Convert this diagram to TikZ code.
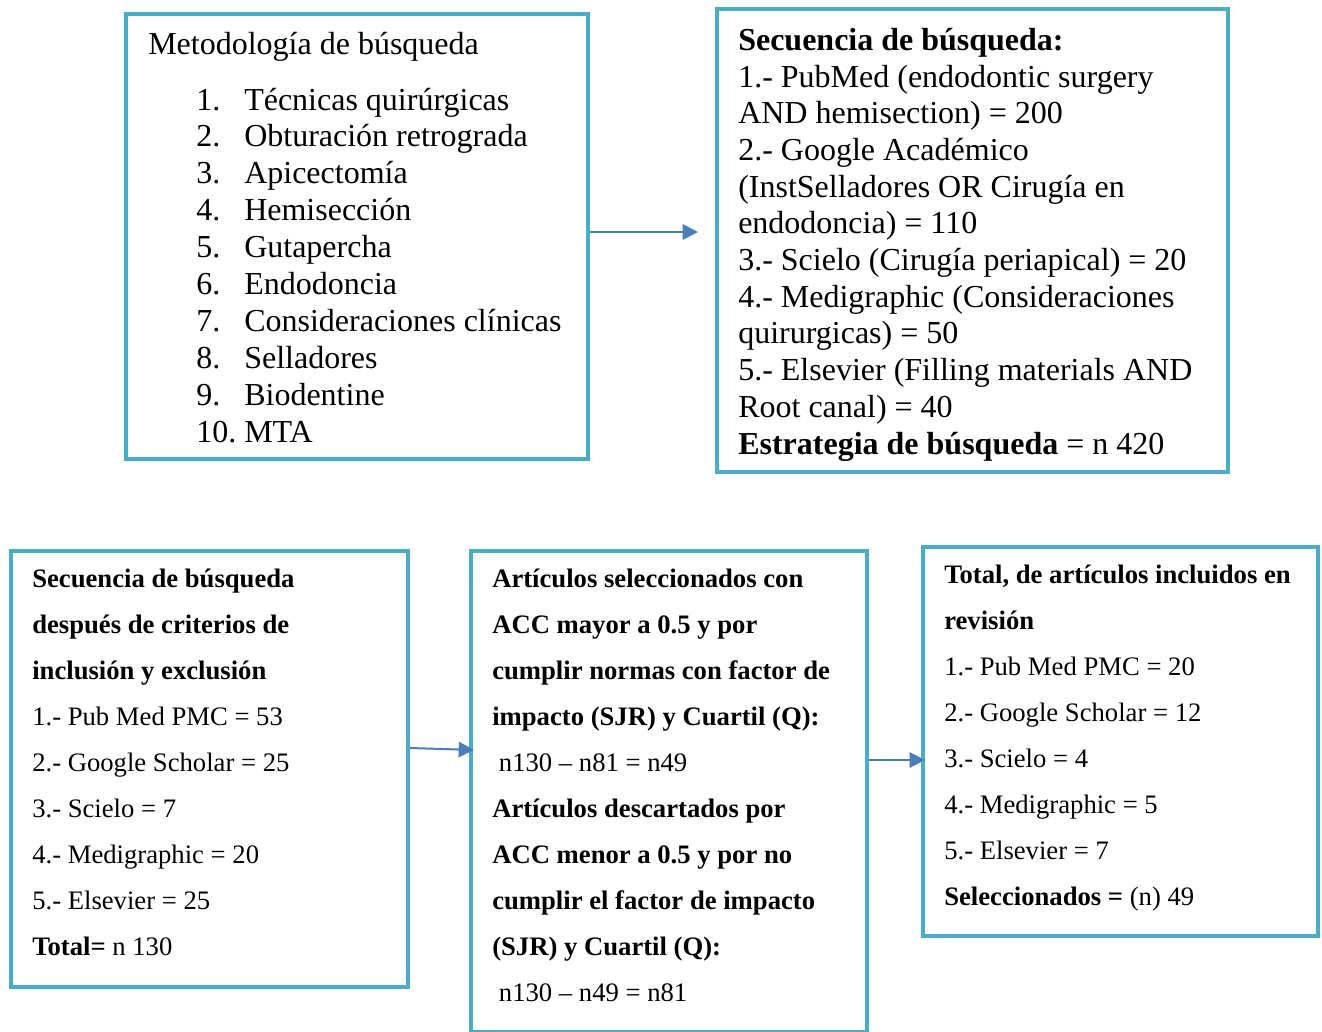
\documentclass[tikz,border=0pt]{standalone}
\usepackage{fontspec}
\setmainfont{Liberation Serif}
\usetikzlibrary{arrows.meta,fit}
\definecolor{boxc}{HTML}{4BACC6}
\definecolor{arrc}{HTML}{4A7EBB}
\begin{document}
\begin{tikzpicture}[x=0.75pt,y=-0.75pt,
  box/.style={draw=boxc,line width=3.2pt,inner sep=0pt},
  arr/.style={draw=arrc,line width=1.5pt,-{Triangle[length=11.5pt,width=11.5pt]}},
  big/.style={anchor=base west,inner sep=0pt,font=\fontsize{24}{28}\selectfont},
  small/.style={anchor=base west,inner sep=0pt,font=\fontsize{20}{24}\selectfont}]
\useasboundingbox (0,0) rectangle (1322,1032);
\clip (0,0) rectangle (1322,1032);
% boxes
\node[box,fit={(126,14) (588,459)}] (b1) {};
\node[box,fit={(717,9) (1228,472)}] (b2) {};
\node[box,fit={(11,551) (408,987)}] (b3) {};
\node[box,fit={(471,551) (867,1032)}] (b4) {};
\node[box,fit={(923,547) (1318,936)}] (b5) {};
% box 1 text
\node[big] (t1-0) at (148,54) {Metodología de búsqueda};
\foreach \t [count=\i] in {{Técnicas quirúrgicas},{Obturación retrograda},{Apicectomía},{Hemisección},{Gutapercha},{Endodoncia},{Consideraciones clínicas},{Selladores},{Biodentine},{MTA}}
  \node[big] (t1-\i) at (196,{110+36.9*(\i-1)}) {\makebox[36pt][l]{\i.}\t};
% box 2 text
\foreach \t [count=\i] in {{\textbf{Secuencia de búsqueda:}},{1.- PubMed (endodontic surgery},{AND hemisection) = 200},{2.- Google Académico},{(InstSelladores OR Cirugía en},{endodoncia) = 110},{3.- Scielo (Cirugía periapical) = 20},{4.- Medigraphic (Consideraciones},{quirurgicas) = 50},{5.- Elsevier (Filling materials AND},{Root canal) = 40},{\textbf{Estrategia de búsqueda} = n 420}}
  \node[big] (t2-\i) at (738,{50.3+36.7*(\i-1)}) {\t};
% box 3 text
\foreach \t [count=\i] in {{\textbf{Secuencia de búsqueda}},{\textbf{después de criterios de}},{\textbf{inclusión y exclusión}},{1.- Pub Med PMC = 53},{2.- Google Scholar = 25},{3.- Scielo = 7},{4.- Medigraphic = 20},{5.- Elsevier = 25},{\textbf{Total=} n 130}}
  \node[small] (t3-\i) at (32,{587+46*(\i-1)}) {\t};
% box 4 text
\foreach \t [count=\i] in {{\textbf{Artículos seleccionados con}},{\textbf{ACC mayor a 0.5 y por}},{\textbf{cumplir normas con factor de}},{\textbf{impacto (SJR) y Cuartil (Q):}},{\hspace{5pt}n130 – n81 = n49},{\textbf{Artículos descartados por}},{\textbf{ACC menor a 0.5 y por no}},{\textbf{cumplir el factor de impacto}},{\textbf{(SJR) y Cuartil (Q):}},{\hspace{5pt}n130 – n49 = n81}}
  \node[small] (t4-\i) at (492,{587+46*(\i-1)}) {\t};
% box 5 text
\foreach \t [count=\i] in {{\textbf{Total, de artículos incluidos en}},{\textbf{revisión}},{1.- Pub Med PMC = 20},{2.- Google Scholar = 12},{3.- Scielo = 4},{4.- Medigraphic = 5},{5.- Elsevier = 7},{\textbf{Seleccionados =} (n) 49}}
  \node[small] (t5-\i) at (944,{583+46*(\i-1)}) {\t};
% arrows
\coordinate (a1e) at (698,232);
\coordinate (a2s) at (410,748);
\coordinate (a2e) at (474,750);
\coordinate (a3e) at (925,760);
\draw[arr] (b1.east |- a1e) -- (a1e);
\draw[arr] (b3.east |- a2s) -- (a2e);
\draw[arr] (b4.east |- a3e) -- (a3e);
\end{tikzpicture}
\end{document}
